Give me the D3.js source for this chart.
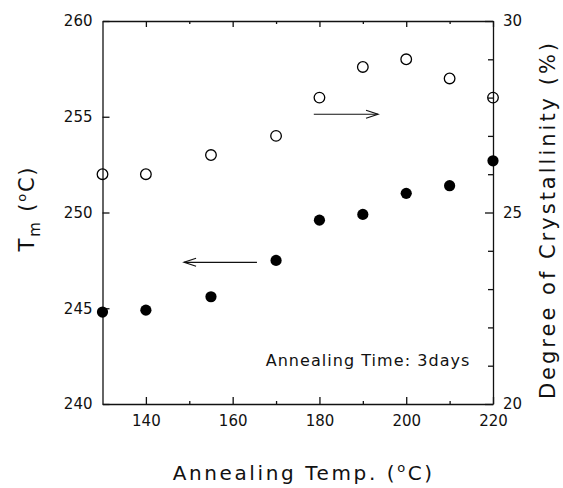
<!DOCTYPE html>
<html>
<head>
<meta charset="utf-8">
<script src="https://cdn.jsdelivr.net/npm/d3@7/dist/d3.min.js"></script>
<style>
  body { margin: 0; background: #fff; }
  svg { display: block; }
  .axis text { font-family: "DejaVu Sans", sans-serif; font-size: 15px; fill: #111; }
  .axis path, .axis line { stroke: #111; stroke-width: 1.3; }
  .title { font-family: "DejaVu Sans", sans-serif; fill: #111; }
</style>
</head>
<body>
<div id="chart"></div>
<script>
// annealing temperatures (°C)
const temps = [130, 140, 155, 170, 180, 190, 200, 210, 220];
// melting temperature Tm (°C), left axis, filled circles
const meltingTemp = [244.8, 244.9, 245.6, 247.5, 249.6, 249.9, 251.0, 251.4, 252.7];
// degree of crystallinity (%), right axis, open circles
const crystallinity = [26.0, 26.0, 26.5, 27.0, 28.0, 28.8, 29.0, 28.5, 28.0];

const xMajor = [140, 160, 180, 200, 220];
const xMinor = [150, 170, 190, 210];
const leftTicks = [240, 245, 250, 255, 260];
const rightMajor = [20, 25, 30];
const rightMinor = [21, 22, 23, 24, 26, 27, 28, 29];

class DualAxisChart {
  constructor(opts) {
    this.element = opts.element;
    this.margin = {top: 21, right: 70, bottom: 84, left: 102.5};
    this.width = 563 - this.margin.left - this.margin.right;
    this.height = 488 - this.margin.top - this.margin.bottom;
    this.init();
  }

  init() {
    this.svg = d3.select(this.element)
      .append('svg')
        .attr('width', 563)
        .attr('height', 488)
      .append('g')
        .attr('transform', `translate(${this.margin.left},${this.margin.top})`);

    this.x = d3.scaleLinear().domain([130, 220]).range([0, this.width]);
    this.yLeft = d3.scaleLinear().domain([240, 260]).range([this.height, 0]);
    this.yRight = d3.scaleLinear().domain([20, 30]).range([this.height, 0]);

    this.drawAxes();
    this.drawPoints();
    this.drawNotes();
  }

  drawAxes() {
    const h = this.height, w = this.width;

    // bottom: major ticks with labels, minor ticks without
    this.svg.append('g').attr('class', 'axis')
      .attr('transform', `translate(0,${h})`)
      .call(d3.axisBottom(this.x).tickValues(xMajor).tickSizeInner(-7).tickSizeOuter(0).tickPadding(11));
    this.svg.append('g').attr('class', 'axis')
      .attr('transform', `translate(0,${h})`)
      .call(d3.axisBottom(this.x).tickValues(xMinor).tickSize(-3).tickFormat(''))
      .select('.domain').remove();

    // top: ticks only
    this.svg.append('g').attr('class', 'axis')
      .call(d3.axisTop(this.x).tickValues(xMajor).tickSizeInner(-6).tickSizeOuter(0).tickFormat(''));
    this.svg.append('g').attr('class', 'axis')
      .call(d3.axisTop(this.x).tickValues(xMinor).tickSize(-3).tickFormat(''))
      .select('.domain').remove();

    // left: Tm
    this.svg.append('g').attr('class', 'axis')
      .call(d3.axisLeft(this.yLeft).tickValues(leftTicks).tickSizeInner(-7).tickSizeOuter(0).tickPadding(10));

    // right: crystallinity
    this.svg.append('g').attr('class', 'axis')
      .attr('transform', `translate(${w},0)`)
      .call(d3.axisRight(this.yRight).tickValues(rightMajor).tickSizeInner(-8).tickSizeOuter(0).tickPadding(10));
    this.svg.append('g').attr('class', 'axis')
      .attr('transform', `translate(${w},0)`)
      .call(d3.axisRight(this.yRight).tickValues(rightMinor).tickSize(-5).tickFormat(''))
      .select('.domain').remove();

    // axis titles
    const xt = this.svg.append('text').attr('class', 'title')
      .attr('x', w / 2 + 6).attr('y', h + 76)
      .attr('text-anchor', 'middle')
      .style('font-size', '20px').style('letter-spacing', '2.6px');
    xt.append('tspan').text('Annealing Temp. (');
    xt.append('tspan').attr('dy', -8).style('font-size', '13px').text('o');
    xt.append('tspan').attr('dy', 8).text('C)');

    const yt = this.svg.append('text').attr('class', 'title')
      .attr('transform', `translate(${-69},${h / 2 - 4}) rotate(-90)`)
      .attr('text-anchor', 'middle')
      .style('font-size', '21px').style('letter-spacing', '1.8px');
    yt.append('tspan').text('T');
    yt.append('tspan').attr('dy', 6).style('font-size', '15px').text('m');
    yt.append('tspan').attr('dy', -6).text(' (');
    yt.append('tspan').attr('dy', -8).style('font-size', '13px').text('o');
    yt.append('tspan').attr('dy', 8).text('C)');

    this.svg.append('text').attr('class', 'title')
      .attr('transform', `translate(${w + 62},${h / 2 + 7}) rotate(-90)`)
      .attr('text-anchor', 'middle')
      .style('font-size', '21px').style('letter-spacing', '3px')
      .text('Degree of Crystallinity (%)');
  }

  drawPoints() {
    this.svg.selectAll('.tm')
      .data(temps)
      .enter()
      .append('circle')
      .attr('class', 'tm')
      .attr('cx', d => this.x(d))
      .attr('cy', (d, i) => this.yLeft(meltingTemp[i]))
      .attr('r', 5.6)
      .style('fill', '#000');

    this.svg.selectAll('.xc')
      .data(temps)
      .enter()
      .append('circle')
      .attr('class', 'xc')
      .attr('cx', d => this.x(d))
      .attr('cy', (d, i) => this.yRight(crystallinity[i]))
      .attr('r', 5.3)
      .style('fill', 'none')
      .style('stroke', '#000')
      .style('stroke-width', 1.3);
  }

  drawNotes() {
    // arrows pointing at the axis each series belongs to
    const arrow = (x0, x1, yv) => {
      const a = this.x(x0), b = this.x(x1), y = this.yLeft(yv);
      const dir = Math.sign(b - a);
      const g = this.svg.append('g').style('stroke', '#111').style('stroke-width', 1.2).style('fill', 'none');
      g.append('line').attr('x1', a).attr('x2', b).attr('y1', y).attr('y2', y);
      g.append('path').attr('d', `M${b - dir * 12},${y - 4}L${b},${y}L${b - dir * 12},${y + 4}`);
    };
    arrow(178.7, 193.5, 255.13);
    arrow(165.6, 148.8, 247.4);

    this.svg.append('text').attr('class', 'title')
      .attr('x', this.x(167.6)).attr('y', this.yLeft(242.0))
      .style('font-size', '16px').style('letter-spacing', '1.05px')
      .text('Annealing Time: 3days');
  }
}

new DualAxisChart({element: '#chart'});
</script>
</body>
</html>
